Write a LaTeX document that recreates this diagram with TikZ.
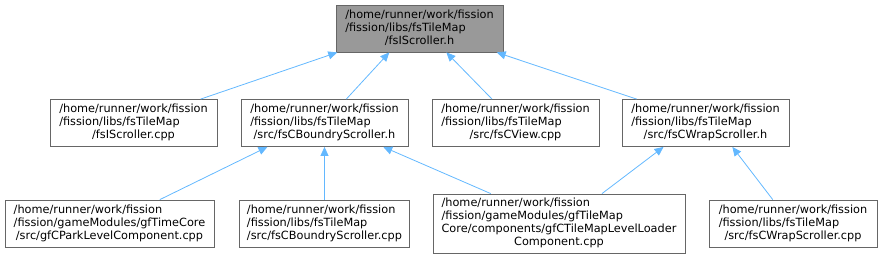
\documentclass[tikz,border=0pt]{standalone}
\usepackage{fontspec}
\setmainfont{DejaVu Sans}
\usetikzlibrary{arrows.meta, calc}
\definecolor{edgeblue}{RGB}{99,184,255}
\definecolor{boxgray}{RGB}{102,102,102}
\definecolor{rootfill}{RGB}{153,153,153}
% label: left aligned lines, last line centred
\newcommand{\flabel}[2]{\begin{tabular}{@{}l@{}}#1\\\multicolumn{1}{@{}c@{}}{#2}\end{tabular}}

\begin{document}
\begin{tikzpicture}[x=1pt, y=-1pt,
  file/.style={draw=boxgray, line width=0.8pt, fill=white, inner sep=0pt,
    minimum width=167pt, minimum height=47pt, font=\fontsize{11.3}{13}\selectfont},
  root/.style={file, fill=rootfill},
  edge/.style={draw=edgeblue, line width=0.8pt, -{Triangle[length=9pt, width=8pt]}}]
  \useasboundingbox (0,0) rectangle (881,259);

  % top
  \node[root] (root) at (419.5,28.5) {\flabel{/home/runner/work/fission\\/fission/libs/fsTileMap}{/fsIScroller.h}};

  % middle row
  \node[file] (isc) at (133.5,123) {\flabel{/home/runner/work/fission\\/fission/libs/fsTileMap}{/fsIScroller.cpp}};
  \node[file] (bsh) at (324.5,123) {\flabel{/home/runner/work/fission\\/fission/libs/fsTileMap}{/src/fsCBoundryScroller.h}};
  \node[file] (view) at (515.5,123) {\flabel{/home/runner/work/fission\\/fission/libs/fsTileMap}{/src/fsCView.cpp}};
  \node[file] (wsh) at (705.5,123) {\flabel{/home/runner/work/fission\\/fission/libs/fsTileMap}{/src/fsCWrapScroller.h}};

  % bottom row
  \node[file, minimum width=209pt] (park) at (109.5,223.5) {\flabel{/home/runner/work/fission\\/fission/gameModules/gfTimeCore}{/src/gfCParkLevelComponent.cpp}};
  \node[file, minimum width=170pt] (bscpp) at (324.5,223.5) {\flabel{/home/runner/work/fission\\/fission/libs/fsTileMap}{/src/fsCBoundryScroller.cpp}};
  \node[file, minimum width=252pt, minimum height=59pt] (tml) at (559,223.5) {\flabel{/home/runner/work/fission\\/fission/gameModules/gfTileMap\\Core/components/gfCTileMapLevelLoader}{Component.cpp}};
  \node[file, minimum width=168pt] (wscpp) at (793,223.5) {\flabel{/home/runner/work/fission\\/fission/libs/fsTileMap}{/src/fsCWrapScroller.cpp}};

  % includes
  \draw[edge] ($(isc.north west)!.90!(isc.north east)$) -- ($(root.south west)!.01!(root.south east)$);
  \draw[edge] ($(bsh.north west)!.63!(bsh.north east)$) -- ($(root.south west)!.32!(root.south east)$);
  \draw[edge] ($(view.north west)!.36!(view.north east)$) -- ($(root.south west)!.66!(root.south east)$);
  \draw[edge] ($(wsh.north west)!.09!(wsh.north east)$) -- ($(root.south west)!.96!(root.south east)$);
  \draw[edge] ($(park.north west)!.74!(park.north east)$) -- ($(bsh.south west)!.16!(bsh.south east)$);
  \draw[edge] (bscpp.north) -- (bsh.south);
  \draw[edge] ($(tml.north west)!.23!(tml.north east)$) -- ($(bsh.south west)!.85!(bsh.south east)$);
  \draw[edge] ($(tml.north west)!.67!(tml.north east)$) -- ($(wsh.south west)!.25!(wsh.south east)$);
  \draw[edge] ($(wscpp.north west)!.38!(wscpp.north east)$) -- ($(wsh.south west)!.66!(wsh.south east)$);
\end{tikzpicture}
\end{document}
